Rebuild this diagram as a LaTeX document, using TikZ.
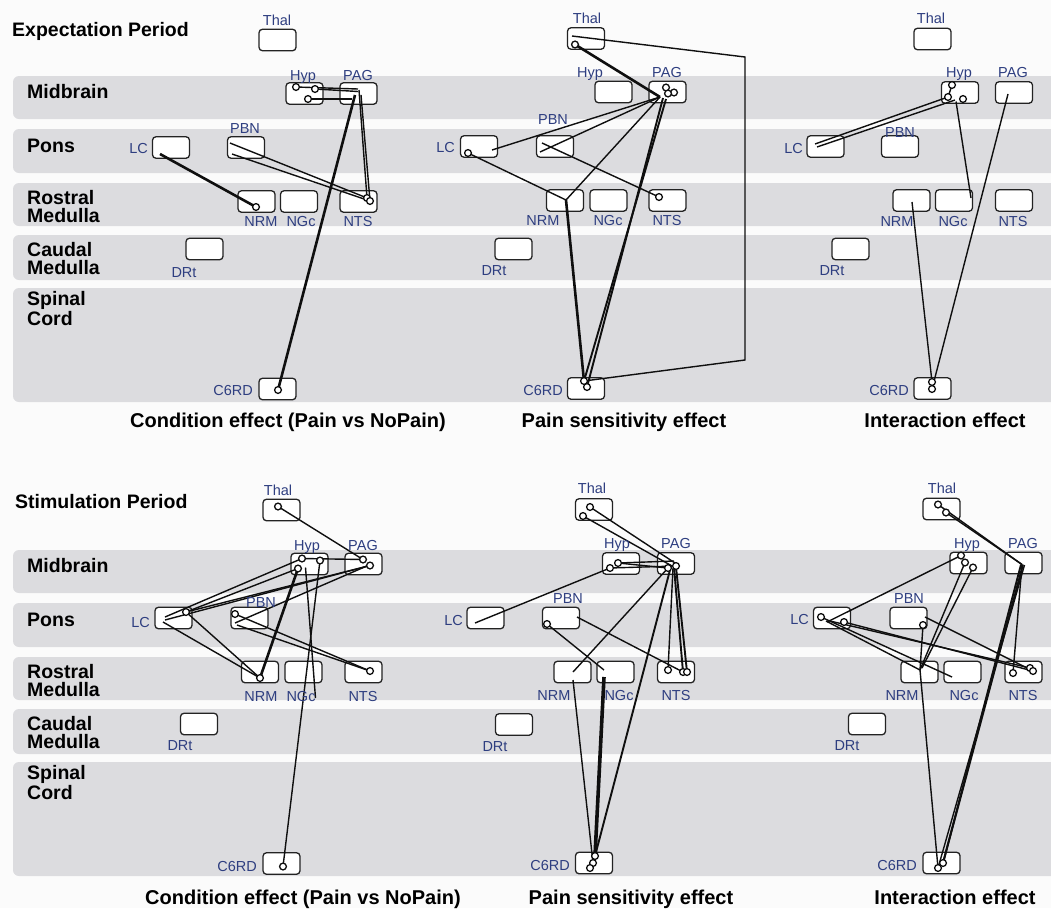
\documentclass[tikz,border=0pt]{standalone}
\usepackage{fontspec}
\setmainfont{Liberation Sans}
\definecolor{band}{RGB}{220,220,223}
\definecolor{lab}{RGB}{46,62,128}
\definecolor{edge}{RGB}{35,35,35}
\definecolor{ink}{RGB}{15,15,15}
\begin{document}
\begin{tikzpicture}[x=1pt,y=-1pt,
  rbox/.style={draw=edge,fill=white,rounded corners=3.5pt,minimum width=37pt,minimum height=21.5pt,line width=1.3pt,inner sep=0pt},
  tag/.style={text=lab,font=\fontsize{14.5}{14.5}\selectfont,inner sep=0pt,anchor=base},
  tagr/.style={tag,anchor=base east},
  row/.style={font=\fontsize{19.5}{17.5}\selectfont\bfseries,anchor=base west,inner sep=0pt,align=left},
  ttl/.style={font=\fontsize{20}{20}\selectfont\bfseries,inner sep=0pt,anchor=base},
  ln/.style={line width=1.4pt,draw=ink},
  tk/.style={line width=2.6pt,draw=ink},
  md/.style={line width=1.9pt,draw=ink},
  ring/.style={draw=ink,fill=white,line width=1.3pt},
  off/.style 2 args={shift={(#1,#2)}}]
\useasboundingbox (0,0) rectangle (1051,908);
\fill[white!97!gray] (0,0) rectangle (1051,908);

% ---------- region bands ----------
\foreach \dy in {0,474}{
  \fill[band,rounded corners=6pt] (13,76+\dy) rectangle (1070,119+\dy);
  \fill[band,rounded corners=6pt] (13,129+\dy) rectangle (1070,173+\dy);
  \fill[band,rounded corners=6pt] (13,183+\dy) rectangle (1070,226+\dy);
  \fill[band,rounded corners=6pt] (13,235+\dy) rectangle (1070,280+\dy);
  \fill[band,rounded corners=6pt] (13,288+\dy) rectangle (1070,402+\dy);
}

% ---------- row labels (two-line labels sit on their last line) ----------
\node[row] (exp) at (12,36) {Expectation Period};
\node[row] (stim) at (15,508) {Stimulation Period};
\foreach \dy/\s in {0/a,474/b}{
  \node[row] (mid\s) at (27,98+\dy) {Midbrain};
  \node[row] (pons\s) at (27,152+\dy) {Pons};
  \node[row] (ros\s) at (27,222+\dy) {Rostral\\Medulla};
  \node[row] (cau\s) at (27,274+\dy) {Caudal\\Medulla};
  \node[row] (spi\s) at (27,325+\dy) {Spinal\\Cord};
}

% ---------- panel titles ----------
\node[ttl] (ta) at (288,427) {Condition effect (Pain vs NoPain)};
\node[ttl] (tb) at (624,427) {Pain sensitivity effect};
\node[ttl] (tc) at (945,427) {Interaction effect};
\node[ttl] (td) at (303,904) {Condition effect (Pain vs NoPain)};
\node[ttl] (te) at (631,904) {Pain sensitivity effect};
\node[ttl] (tf) at (955,904) {Interaction effect};

% ---------- region boxes ----------
\newcommand\rb[3]{\node[rbox] (#1) at (#2,#3) {};}
% expectation, condition
\rb{aThal}{277.5}{40}\rb{aHyp}{304.5}{93.5}\rb{aPAG}{358.5}{93.5}
\rb{aLC}{171}{147.5}\rb{aPBN}{246}{147.5}
\rb{aNRM}{256.5}{201.5}\rb{aNGc}{299}{201.5}\rb{aNTS}{358.5}{201.5}
\rb{aDRt}{204.5}{249}\rb{aC6RD}{277.5}{389}
% expectation, pain sensitivity
\rb{bThal}{586}{38.5}\rb{bHyp}{613.5}{92}\rb{bPAG}{667.5}{92}
\rb{bLC}{479}{146.5}\rb{bPBN}{555}{146.5}
\rb{bNRM}{565}{200.5}\rb{bNGc}{608.5}{200.5}\rb{bNTS}{667.5}{200.5}
\rb{bDRt}{513.5}{249}\rb{bC6RD}{586}{388.5}
% expectation, interaction
\rb{cThal}{932.5}{39}\rb{cHyp}{960}{92.5}\rb{cPAG}{1014}{92.5}
\rb{cLC}{825.5}{146.5}\rb{cPBN}{900}{146.5}
\rb{cNRM}{911.5}{200.5}\rb{cNGc}{954}{200.5}\rb{cNTS}{1014}{200.5}
\rb{cDRt}{850.5}{249}\rb{cC6RD}{932.5}{388.5}
% stimulation, condition
\rb{dThal}{281.5}{510}\rb{dHyp}{309.5}{564}\rb{dPAG}{363.5}{564}
\rb{dLC}{173.5}{618}\rb{dPBN}{249.5}{618}
\rb{dNRM}{260}{672}\rb{dNGc}{303.5}{672}\rb{dNTS}{363.5}{672}
\rb{dDRt}{199}{724}\rb{dC6RD}{281.5}{863.5}
% stimulation, pain sensitivity
\rb{eThal}{594}{509.5}\rb{eHyp}{621}{563.5}\rb{ePAG}{676}{563.5}
\rb{eLC}{485.5}{618}\rb{ePBN}{561}{618}
\rb{eNRM}{572.5}{672}\rb{eNGc}{615.5}{672}\rb{eNTS}{676}{672}
\rb{eDRt}{514}{724.5}\rb{eC6RD}{594}{863}
% stimulation, interaction
\rb{fThal}{941.5}{509}\rb{fHyp}{968.5}{563}\rb{fPAG}{1023.5}{563}
\rb{fLC}{832}{618}\rb{fPBN}{908.5}{618}
\rb{fNRM}{919.5}{672}\rb{fNGc}{962.5}{672}\rb{fNTS}{1023.5}{672}
\rb{fDRt}{867}{724}\rb{fC6RD}{941.5}{863}

% ---------- connections: expectation, condition ----------
\draw[tk] ([off={-11}{6.5}]aLC.center) -- ([off={-0.5}{5.5}]aNRM.center);
\draw[ln] ([off={-16}{-4.5}]aPBN.center) -- ([off={8.5}{-3.5}]aNTS.center);
\draw[ln] ([off={-14}{6.5}]aPBN.center) -- ([off={11.5}{-0.5}]aNTS.center);
\draw[ln] ([off={-0.5}{-4.5}]aPAG.center) -- ([off={-8.5}{-6.5}]aHyp.center);
\draw[ln] ([off={-0.5}{-2}]aPAG.center) -- ([off={10.5}{-4.5}]aHyp.center);
\draw[ln] ([off={-6.5}{5.5}]aPAG.center) -- ([off={3.5}{5.5}]aHyp.center);
\draw[ln] ([off={0.5}{-3.5}]aPAG.center) -- ([off={8.5}{-3.5}]aNTS.center);
\draw[ln] ([off={2.5}{1.5}]aPAG.center) -- ([off={11.5}{-0.5}]aNTS.center);
\draw[tk] ([off={-3.5}{1.5}]aPAG.center) -- ([off={0.5}{1}]aC6RD.center);
\foreach \n/\x/\y in {aHyp/-8.5/-6.5,aHyp/10.5/-4.5,aHyp/3.5/5.5,aNRM/-0.5/5.5,aNTS/8.5/-3.5,aNTS/11.5/-0.5,aC6RD/0.5/1}
  \draw[ring] ([off={\x}{\y}]\n.center) circle (3.4);

% ---------- connections: expectation, pain sensitivity ----------
\coordinate (bR1) at (745,57);
\coordinate (bR2) at (745,360);
\draw[tk] ([off={-11}{6}]bThal.center) -- ([off={-7.5}{5}]bPAG.center);
\draw[ln] ([off={-14}{-2.5}]bThal.center) -- (bR1) -- (bR2) -- ([off={-2}{-7.5}]bC6RD.center);
\draw[ln] ([off={13}{3.5}]bLC.center) -- ([off={-7.5}{5}]bPAG.center);
\draw[ln] ([off={-11}{6.5}]bLC.center) -- ([off={1}{-0.5}]bNRM.center);
\draw[ln] ([off={1}{-0.5}]bNRM.center) -- ([off={-7.5}{5}]bPAG.center);
\draw[tk] ([off={1}{-0.5}]bNRM.center) -- ([off={-2}{-7.5}]bC6RD.center);
\draw[ln] ([off={-15}{5.5}]bPBN.center) -- ([off={-7.5}{5}]bPAG.center);
\draw[ln] ([off={-13}{-3.5}]bPBN.center) -- ([off={-8.5}{-3.5}]bNTS.center);
\draw[md] ([off={-4.5}{6}]bPAG.center) -- ([off={1}{-1.5}]bC6RD.center);
\draw[md] ([off={-1.5}{7}]bPAG.center) -- ([off={-2}{-7.5}]bC6RD.center);
\foreach \n/\x/\y in {bThal/-11/6,bPAG/-1.5/-4.5,bPAG/6.5/0.5,bPAG/0.5/1.5,bLC/-11/6.5,bNTS/-8.5/-3.5,bC6RD/-2/-7.5,bC6RD/1/-1.5}
  \draw[ring] ([off={\x}{\y}]\n.center) circle (3.4);

% ---------- connections: expectation, interaction ----------
\draw[ln] ([off={-10.5}{-2.5}]cLC.center) -- ([off={-12}{4.5}]cHyp.center);
\draw[ln] ([off={-8.5}{0.5}]cLC.center) -- ([off={-5}{7.5}]cHyp.center);
\draw[ln] ([off={-12}{4.5}]cHyp.center) -- ([off={-8}{-7.5}]cHyp.center);
\draw[ln] ([off={-4}{9}]cHyp.center) -- ([off={17}{-2.5}]cNGc.center);
\draw[ln] ([off={0.5}{1.5}]cNRM.center) -- ([off={-0.5}{-6.5}]cC6RD.center);
\draw[ln] ([off={-6}{1.5}]cPAG.center) -- ([off={-0.5}{0.5}]cC6RD.center);
\foreach \n/\x/\y in {cHyp/-8/-7.5,cHyp/-12/4.5,cHyp/3/6.5,cC6RD/-0.5/-6.5,cC6RD/-0.5/0.5}
  \draw[ring] ([off={\x}{\y}]\n.center) circle (3.4);

% ---------- connections: stimulation, condition ----------
\draw[ln] ([off={-3.5}{-3.5}]dThal.center) -- ([off={-0.5}{-4.5}]dPAG.center);
\draw[ln] ([off={-7.5}{-5.5}]dHyp.center) -- ([off={-0.5}{-4.5}]dPAG.center);
\draw[ln] ([off={-8.5}{-1}]dLC.center) -- ([off={-7.5}{-5.5}]dHyp.center);
\draw[ln] ([off={12.5}{-6}]dLC.center) -- ([off={-11.5}{4.5}]dHyp.center);
\draw[ln] ([off={-8.5}{2}]dLC.center) -- ([off={6.5}{1.5}]dPAG.center);
\draw[ln] ([off={12.5}{-6}]dLC.center) -- ([off={6.5}{1.5}]dPAG.center);
\draw[ln] ([off={-14.5}{5}]dPBN.center) -- ([off={4.5}{1.5}]dPAG.center);
\draw[ln] ([off={-10.5}{4}]dLC.center) -- ([off={0}{6}]dNRM.center);
\draw[ln] ([off={12.5}{-6}]dLC.center) -- ([off={0}{6}]dNRM.center);
\draw[ln] ([off={-14.5}{-4}]dPBN.center) -- ([off={6.5}{-1}]dNTS.center);
\draw[ln] ([off={-12.5}{7}]dPBN.center) -- ([off={6.5}{-1}]dNTS.center);
\draw[tk] ([off={-11.5}{4.5}]dHyp.center) -- ([off={0}{6}]dNRM.center);
\draw[ln] ([off={-4}{3.5}]dHyp.center) -- ([off={12}{26}]dNGc.center);
\draw[ln] ([off={10.5}{-3.5}]dHyp.center) -- ([off={1.5}{3}]dC6RD.center);
\foreach \n/\x/\y in {dThal/-3.5/-3.5,dHyp/-7.5/-5.5,dHyp/10.5/-3.5,dHyp/-11.5/4.5,dPAG/-0.5/-4.5,dPAG/6.5/1.5,dLC/12.5/-6,dPBN/-14.5/-4,dNRM/0/6,dNTS/6.5/-1,dC6RD/1.5/3}
  \draw[ring] ([off={\x}{\y}]\n.center) circle (3.4);

% ---------- connections: stimulation, pain sensitivity ----------
\draw[ln] ([off={-4}{-2.5}]eThal.center) -- ([off={-1}{-0.5}]ePAG.center);
\draw[ln] ([off={-11}{6.5}]eThal.center) -- ([off={-4}{2.5}]ePAG.center);
\draw[ln] ([off={-3}{-0.5}]eHyp.center) -- ([off={-2}{-2.5}]ePAG.center);
\draw[ln] ([off={-3}{-0.5}]eHyp.center) -- ([off={-8}{4.5}]ePAG.center);
\draw[ln] ([off={-11}{4.5}]eHyp.center) -- ([off={0}{2.5}]ePAG.center);
\draw[ln] ([off={-10.5}{5}]eLC.center) -- ([off={-11}{4.5}]eHyp.center);
\draw[ln] ([off={-14}{6}]ePBN.center) -- ([off={-11.5}{-2}]eNGc.center);
\draw[ln] ([off={16}{-1}]ePBN.center) -- ([off={7}{0}]eNTS.center);
\draw[ln] ([off={0.5}{0}]eNRM.center) -- ([off={-8}{4.5}]ePAG.center);
\draw[ln] ([off={-3}{4.5}]ePAG.center) -- ([off={-8}{-2}]eNTS.center);
\draw[md] ([off={-2}{3.5}]ePAG.center) -- ([off={7}{0}]eNTS.center);
\draw[md] ([off={0}{3.5}]ePAG.center) -- ([off={11}{0}]eNTS.center);
\draw[line width=3.6pt,draw=ink] ([off={-11.5}{5}]eNGc.center) -- ([off={1}{-7}]eC6RD.center);
\draw[ln] ([off={0.5}{8}]eNRM.center) -- ([off={-1}{0}]eC6RD.center);
\draw[md] ([off={-6}{6.5}]ePAG.center) -- ([off={1}{-7}]eC6RD.center);
\foreach \n/\x/\y in {eThal/-4/-2.5,eThal/-11/6.5,eHyp/-3/-0.5,eHyp/-11/4.5,ePAG/-8/4.5,ePAG/0/2.5,ePBN/-14/6,eNTS/-8/-2,eNTS/7/0,eNTS/11/0,eC6RD/1/-7,eC6RD/-1/0,eC6RD/-4/5}
  \draw[ring] ([off={\x}{\y}]\n.center) circle (3.4);

% ---------- connections: stimulation, interaction ----------
\draw[ln] ([off={4.5}{3.5}]fThal.center) -- ([off={-1.5}{1.5}]fPAG.center);
\draw[ln] ([off={-3.5}{-4.5}]fThal.center) -- ([off={-1.5}{1.5}]fPAG.center);
\draw[ln] ([off={-5}{4}]fLC.center) -- ([off={-7.5}{-7.5}]fHyp.center);
\draw[ln] ([off={-11}{-1}]fLC.center) -- ([off={-10.5}{5}]fNGc.center);
\draw[ln] ([off={12}{4}]fLC.center) -- ([off={9.5}{-1}]fNTS.center);
\draw[ln] ([off={-2}{3}]fLC.center) -- ([off={6.5}{-4}]fNTS.center);
\draw[ln] ([off={-6}{3}]fLC.center) -- ([off={0.5}{-2}]fNRM.center);
\draw[ln] ([off={14.5}{7}]fPBN.center) -- ([off={0.5}{-2}]fNRM.center);
\draw[ln] ([off={16.5}{-1}]fPBN.center) -- ([off={9.5}{-1}]fNTS.center);
\draw[ln] ([off={-3.5}{-0.5}]fHyp.center) -- ([off={0.5}{-2}]fNRM.center);
\draw[ln] ([off={4.5}{4.5}]fHyp.center) -- ([off={2.5}{-4}]fNRM.center);
\draw[ln] ([off={0.5}{-2}]fNRM.center) -- ([off={-3.5}{5}]fC6RD.center);
\draw[ln] ([off={-1.5}{1.5}]fPAG.center) -- ([off={-10.5}{1}]fNTS.center);
\draw[md] ([off={-2.5}{1.5}]fPAG.center) -- ([off={1.5}{0}]fC6RD.center);
\draw[md] ([off={-0.5}{1.5}]fPAG.center) -- ([off={1.5}{0}]fC6RD.center);
\draw[ln] ([off={1}{2}]fPAG.center) -- ([off={-3.5}{5}]fC6RD.center);
\foreach \n/\x/\y in {fThal/-3.5/-4.5,fThal/4.5/3.5,fHyp/-7.5/-7.5,fHyp/-3.5/-0.5,fHyp/4.5/4.5,fLC/-11/-1,fLC/12/4,fPBN/14.5/7,fNTS/-10.5/1,fNTS/6.5/-4,fNTS/9.5/-1,fC6RD/-3.5/5,fC6RD/1.5/0}
  \draw[ring] ([off={\x}{\y}]\n.center) circle (3.4);

% ---------- region names ----------
% expectation, condition
\node[tag] (aThalL) at (277,25) {Thal};
\node[tag] (aHypL) at (303,80) {Hyp};
\node[tag] (aPAGL) at (358,80) {PAG};
\node[tag] (aPBNL) at (245,133) {PBN};
\node[tagr] (aLCL) at (148,153) {LC};
\node[tag] (aNRML) at (261,226) {NRM};
\node[tag] (aNGcL) at (301,226) {NGc};
\node[tag] (aNTSL) at (358,226) {NTS};
\node[tag] (aDRtL) at (184,277) {DRt};
\node[tagr] (aC6RDL) at (253,395) {C6RD};
% expectation, pain sensitivity
\node[tag] (bThalL) at (587,23) {Thal};
\node[tag] (bHypL) at (590,77) {Hyp};
\node[tag] (bPAGL) at (667,77) {PAG};
\node[tag] (bPBNL) at (553,124) {PBN};
\node[tagr] (bLCL) at (455,152) {LC};
\node[tag] (bNRML) at (543,225) {NRM};
\node[tag] (bNGcL) at (608,225) {NGc};
\node[tag] (bNTSL) at (667,225) {NTS};
\node[tag] (bDRtL) at (494,275) {DRt};
\node[tagr] (bC6RDL) at (563,395) {C6RD};
% expectation, interaction
\node[tag] (cThalL) at (931,23) {Thal};
\node[tag] (cHypL) at (959,77) {Hyp};
\node[tag] (cPAGL) at (1013,77) {PAG};
\node[tag] (cPBNL) at (900,137) {PBN};
\node[tagr] (cLCL) at (803,153) {LC};
\node[tag] (cNRML) at (897,226) {NRM};
\node[tag] (cNGcL) at (953,226) {NGc};
\node[tag] (cNTSL) at (1013,226) {NTS};
\node[tag] (cDRtL) at (832,275) {DRt};
\node[tagr] (cC6RDL) at (909,395) {C6RD};
% stimulation, condition
\node[tag] (dThalL) at (278,495) {Thal};
\node[tag] (dHypL) at (307,550) {Hyp};
\node[tag] (dPAGL) at (363,550) {PAG};
\node[tag] (dPBNL) at (261,607) {PBN};
\node[tagr] (dLCL) at (150,627) {LC};
\node[tag] (dNRML) at (261,701) {NRM};
\node[tag] (dNGcL) at (301,701) {NGc};
\node[tag] (dNTSL) at (363,701) {NTS};
\node[tag] (dDRtL) at (180,750) {DRt};
\node[tagr] (dC6RDL) at (257,871) {C6RD};
% stimulation, pain sensitivity
\node[tag] (eThalL) at (592,493) {Thal};
\node[tag] (eHypL) at (617,548) {Hyp};
\node[tag] (ePAGL) at (676,548) {PAG};
\node[tag] (ePBNL) at (568,603) {PBN};
\node[tagr] (eLCL) at (463,625) {LC};
\node[tag] (eNRML) at (554,700) {NRM};
\node[tag] (eNGcL) at (619,700) {NGc};
\node[tag] (eNTSL) at (676,700) {NTS};
\node[tag] (eDRtL) at (495,751) {DRt};
\node[tagr] (eC6RDL) at (570,870) {C6RD};
% stimulation, interaction
\node[tag] (fThalL) at (942,493) {Thal};
\node[tag] (fHypL) at (967,548) {Hyp};
\node[tag] (fPAGL) at (1023,548) {PAG};
\node[tag] (fPBNL) at (909,603) {PBN};
\node[tagr] (fLCL) at (809,624) {LC};
\node[tag] (fNRML) at (902,700) {NRM};
\node[tag] (fNGcL) at (964,700) {NGc};
\node[tag] (fNTSL) at (1023,700) {NTS};
\node[tag] (fDRtL) at (847,750) {DRt};
\node[tagr] (fC6RDL) at (917,870) {C6RD};
\end{tikzpicture}
\end{document}
